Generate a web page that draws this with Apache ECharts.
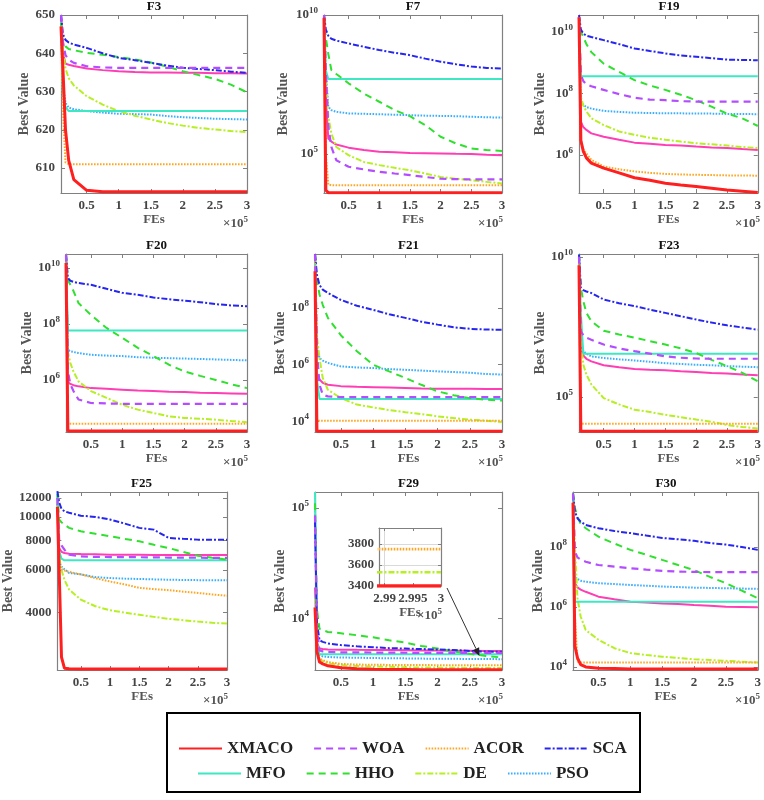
<!DOCTYPE html>
<html><head><meta charset="utf-8">
<script src="https://cdn.jsdelivr.net/npm/echarts@6/dist/echarts.min.js"></script>
<style>html,body{margin:0;padding:0;background:#fff}#c{width:764px;height:800px}</style>
</head><body><div id="c"></div>
<script>
// ---------- DATA ----------
// FEs (x 10^5) sample points shared by all curves
const X = [0.1, 0.13, 0.17, 0.22, 0.3, 0.5, 0.75, 1, 1.25, 1.5, 1.75, 2, 2.25, 2.5, 2.75, 3];
const xTickValues = [0.5, 1, 1.5, 2, 2.5, 3];
// series order inside each panel list
const seriesNames = ['XMACO', 'WOA', 'ACOR', 'SCA', 'MFO', 'HHO', 'DE', 'PSO', 'Other'];
const legendRow1 = ['XMACO', 'WOA', 'ACOR', 'SCA'];
const legendRow2 = ['MFO', 'HHO', 'DE', 'PSO'];

const f3 = [
  [647, 636, 620, 612, 607, 604.2, 603.8, 603.8, 603.8, 603.8, 603.8, 603.8, 603.8, 603.8, 603.8, 603.8],
  [650, 643, 639.5, 638.3, 637.5, 636.6, 636.3, 636.2, 636.2, 636.2, 636.2, 636.2, 636.2, 636.2, 636.2, 636.2],
  [647, 625, 611.5, 611, 611, 611, 611, 611, 611, 611, 611, 611, 611, 611, 611, 611],
  [650, 645, 643.5, 642.8, 642.3, 641.4, 640, 638.8, 638.2, 637.5, 636.8, 636.2, 635.9, 635.6, 635.2, 634.9],
  [648, 630, 626, 624.9, 624.9, 624.9, 624.9, 624.9, 624.9, 624.9, 624.9, 624.9, 624.9, 624.9, 624.9, 624.9],
  [648, 643, 641.8, 641.1, 640.8, 640.1, 639.6, 639, 638.4, 637.6, 636.5, 635.3, 634.3, 633.3, 631.8, 629.8],
  [648, 641, 636, 633.5, 631.6, 628.8, 626.6, 624.9, 623.7, 622.7, 621.8, 621.1, 620.5, 620.1, 619.7, 619.4],
  [648, 632, 627, 625.8, 625.4, 624.9, 624.5, 624.2, 624.1, 624, 623.6, 623.3, 623.1, 622.9, 622.8, 622.7],
  [650, 640, 637.3, 637, 636.7, 636, 635.6, 635.3, 635.1, 635, 635, 634.9, 634.9, 634.8, 634.8, 634.7]
];
const f7 = [
  [8e9, 5e3, 4.1e3, 4.1e3, 4.1e3, 4.1e3, 4.1e3, 4.1e3, 4.1e3, 4.1e3, 4.1e3, 4.1e3, 4.1e3, 4.1e3, 4.1e3, 4.1e3],
  [1e10, 1e8, 1e6, 1.8e5, 6e4, 3.5e4, 2.8e4, 2.3e4, 2e4, 1.75e4, 1.5e4, 1.3e4, 1.25e4, 1.23e4, 1.23e4, 1.23e4],
  [1e10, 1e5, 8e3, 7.6e3, 7.5e3, 7.5e3, 7.5e3, 7.5e3, 7.5e3, 7.5e3, 7.5e3, 7.5e3, 7.5e3, 7.5e3, 7.5e3, 7.5e3],
  [1e10, 3e9, 1.8e9, 1.4e9, 1.2e9, 9.5e8, 7.2e8, 5.5e8, 4.4e8, 3.6e8, 2.7e8, 2.1e8, 1.7e8, 1.4e8, 1.25e8, 1.2e8],
  [1e10, 1e8, 5e7, 5e7, 5e7, 5e7, 5e7, 5e7, 5e7, 5e7, 5e7, 5e7, 5e7, 5e7, 5e7, 5e7],
  [9e9, 1.5e9, 4e8, 1.05e8, 7.6e7, 3.5e7, 1.5e7, 7.6e6, 3.8e6, 2.3e6, 1.1e6, 4.2e5, 2.4e5, 1.6e5, 1.4e5, 1.3e5],
  [1e10, 1e8, 2.2e6, 5.5e5, 1.8e5, 9.1e4, 5.2e4, 4e4, 3.2e4, 2.6e4, 2e4, 1.5e4, 1.3e4, 1.15e4, 1e4, 8.7e3],
  [1e10, 1e8, 5e6, 3.8e6, 3.3e6, 2.9e6, 2.8e6, 2.7e6, 2.6e6, 2.5e6, 2.4e6, 2.35e6, 2.3e6, 2.2e6, 2.1e6, 2.05e6],
  [1e10, 1e7, 3.6e5, 2.8e5, 2.2e5, 1.7e5, 1.4e5, 1.2e5, 1.15e5, 1.1e5, 1.08e5, 1.05e5, 1.02e5, 1e5, 9.5e4, 9.1e4]
];
const f19 = [
  [3e10, 3e6, 1.3e6, 8e5, 5.4e5, 3.7e5, 2.6e5, 1.8e5, 1.5e5, 1.2e5, 1.05e5, 9.3e4, 8.2e4, 7.2e4, 6.6e4, 6e4],
  [3e10, 4e8, 2.5e8, 2e8, 1.7e8, 1.3e8, 9.5e7, 7.2e7, 6.3e7, 6e7, 5.6e7, 5.4e7, 5.4e7, 5.4e7, 5.4e7, 5.4e7],
  [3e10, 2.4e6, 1.5e6, 1.1e6, 6.9e5, 4.2e5, 3.4e5, 2.9e5, 2.6e5, 2.4e5, 2.3e5, 2.25e5, 2.2e5, 2.15e5, 2.15e5, 2.1e5],
  [3.5e10, 1.2e10, 8.9e9, 7.5e9, 6.8e9, 5.4e9, 4e9, 2.9e9, 2.4e9, 2e9, 1.7e9, 1.55e9, 1.4e9, 1.26e9, 1.22e9, 1.2e9],
  [3e10, 3.6e8, 3.6e8, 3.6e8, 3.6e8, 3.6e8, 3.6e8, 3.6e8, 3.6e8, 3.6e8, 3.6e8, 3.6e8, 3.6e8, 3.6e8, 3.6e8, 3.6e8],
  [3e10, 1e10, 6.9e9, 4e9, 2.2e9, 9.3e8, 5e8, 2.7e8, 1.8e8, 1.3e8, 9e7, 6e7, 3.7e7, 2.2e7, 1.55e7, 8.7e6],
  [3e10, 7.8e7, 4e7, 2.6e7, 1.55e7, 9.3e6, 5.8e6, 4.5e6, 3.6e6, 3.1e6, 2.7e6, 2.4e6, 2.2e6, 2e6, 1.8e6, 1.66e6],
  [3e10, 5.4e7, 4.2e7, 3.6e7, 3.2e7, 2.7e7, 2.5e7, 2.35e7, 2.3e7, 2.25e7, 2.25e7, 2.2e7, 2.2e7, 2.15e7, 2.15e7, 2.1e7],
  [3e10, 1.2e7, 8e6, 6.5e6, 5e6, 3.9e6, 3.1e6, 2.5e6, 2.3e6, 2.1e6, 2e6, 1.86e6, 1.75e6, 1.66e6, 1.55e6, 1.45e6]
];
const f20 = [
  [1.5e10, 1.5e4, 1.5e4, 1.5e4, 1.5e4, 1.5e4, 1.5e4, 1.5e4, 1.5e4, 1.5e4, 1.5e4, 1.5e4, 1.5e4, 1.5e4, 1.5e4, 1.5e4],
  [3e10, 2e6, 7e5, 4e5, 2e5, 1.5e5, 1.45e5, 1.4e5, 1.4e5, 1.4e5, 1.4e5, 1.4e5, 1.4e5, 1.4e5, 1.4e5, 1.4e5],
  [3e10, 2.7e4, 2.7e4, 2.7e4, 2.7e4, 2.7e4, 2.7e4, 2.7e4, 2.7e4, 2.7e4, 2.7e4, 2.7e4, 2.7e4, 2.7e4, 2.7e4, 2.7e4],
  [3e10, 4.4e9, 3.5e9, 3.2e9, 2.9e9, 2.5e9, 1.8e9, 1.3e9, 1.1e9, 8.9e8, 7.6e8, 6.8e8, 6e8, 5.1e8, 4.6e8, 4.3e8],
  [3e10, 5.8e7, 5.8e7, 5.8e7, 5.8e7, 5.8e7, 5.8e7, 5.8e7, 5.8e7, 5.8e7, 5.8e7, 5.8e7, 5.8e7, 5.8e7, 5.8e7, 5.8e7],
  [3e10, 3.8e9, 2.5e9, 1.5e9, 5.6e8, 2.1e8, 7.2e7, 3.2e7, 1.4e7, 7.1e6, 3.5e6, 2e6, 1.4e6, 1e6, 7e5, 5.1e5],
  [3e10, 1e7, 4e6, 2e6, 8.9e5, 4e5, 2.3e5, 1.3e5, 8.7e4, 6.6e4, 5e4, 4.4e4, 4.1e4, 3.8e4, 3.4e4, 3.1e4],
  [3e10, 1.2e7, 1.05e7, 1e7, 9.1e6, 7.9e6, 7.4e6, 7.1e6, 6.5e6, 6.2e6, 6e6, 5.8e6, 5.6e6, 5.4e6, 5.2e6, 5e6],
  [3e10, 8.5e5, 7.2e5, 6.5e5, 5.9e5, 5.1e5, 4.8e5, 4.5e5, 4.2e5, 4e5, 3.8e5, 3.7e5, 3.5e5, 3.4e5, 3.3e5, 3.2e5]
];
const f21 = [
  [2e9, 4.5e3, 4.5e3, 4.5e3, 4.5e3, 4.5e3, 4.5e3, 4.5e3, 4.5e3, 4.5e3, 4.5e3, 4.5e3, 4.5e3, 4.5e3, 4.5e3, 4.5e3],
  [8e9, 3e6, 2e5, 8.7e4, 7.6e4, 7.2e4, 7.2e4, 7.2e4, 7.2e4, 7.2e4, 7.2e4, 7.2e4, 7.2e4, 7.2e4, 7.2e4, 7.2e4],
  [5e9, 1.05e4, 1.05e4, 1.05e4, 1.05e4, 1.05e4, 1.05e4, 1.05e4, 1.05e4, 1.05e4, 1.05e4, 1.05e4, 1.05e4, 1.05e4, 1.05e4, 1.05e4],
  [8e9, 1.5e9, 6.5e8, 4.5e8, 3.4e8, 1.95e8, 1.2e8, 8.7e7, 6e7, 4.5e7, 3.3e7, 2.6e7, 2.1e7, 1.85e7, 1.75e7, 1.7e7],
  [8e9, 3e5, 6.2e4, 6.2e4, 6.2e4, 6.2e4, 6.2e4, 6.2e4, 6.2e4, 6.2e4, 6.2e4, 6.2e4, 6.2e4, 6.2e4, 6.2e4, 6.2e4],
  [8e9, 1e9, 3e8, 1.3e8, 4.5e7, 1.1e7, 3e6, 1e6, 5.8e5, 3.4e5, 1.95e5, 1.15e5, 8.3e4, 6.6e4, 5.8e4, 5.4e4],
  [8e9, 1e7, 1.7e6, 3.4e5, 1.3e5, 6.6e4, 3.9e4, 3.1e4, 2.5e4, 2.1e4, 1.8e4, 1.5e4, 1.3e4, 1.15e4, 1.05e4, 9.5e3],
  [8e9, 5e6, 1.7e6, 1.4e6, 1.15e6, 8.7e5, 8e5, 7.6e5, 7e5, 6.6e5, 6.2e5, 5.8e5, 5.5e5, 5.2e5, 4.7e5, 4.5e5],
  [8e9, 5e5, 3e5, 2.3e5, 1.95e5, 1.75e5, 1.65e5, 1.6e5, 1.55e5, 1.5e5, 1.45e5, 1.42e5, 1.4e5, 1.4e5, 1.38e5, 1.38e5]
];
const f23 = [
  [5e9, 5.9e3, 5.9e3, 5.9e3, 5.9e3, 5.9e3, 5.9e3, 5.9e3, 5.9e3, 5.9e3, 5.9e3, 5.9e3, 5.9e3, 5.9e3, 5.9e3, 5.9e3],
  [1e10, 2.2e7, 1.6e7, 1.3e7, 1.1e7, 7.4e6, 5.4e6, 4.3e6, 3.5e6, 2.8e6, 2.5e6, 2.35e6, 2.3e6, 2.3e6, 2.3e6, 2.3e6],
  [6e9, 1.1e4, 1.1e4, 1.1e4, 1.1e4, 1.1e4, 1.1e4, 1.1e4, 1.1e4, 1.1e4, 1.1e4, 1.1e4, 1.1e4, 1.1e4, 1.1e4, 1.1e4],
  [1.2e10, 7.8e8, 6.5e8, 5.8e8, 5.1e8, 3e8, 2.2e8, 1.75e8, 1.3e8, 1e8, 7.6e7, 5.8e7, 4.5e7, 3.6e7, 3e7, 2.5e7],
  [1e10, 1e8, 3.5e6, 3.5e6, 3.5e6, 3.5e6, 3.5e6, 3.5e6, 3.5e6, 3.5e6, 3.5e6, 3.5e6, 3.5e6, 3.5e6, 3.5e6, 3.5e6],
  [1.2e10, 8e8, 2.6e8, 1e8, 5e7, 2.3e7, 1.7e7, 1.3e7, 9.8e6, 7.4e6, 5.4e6, 3.7e6, 2.1e6, 1.26e6, 7.2e5, 3.6e5],
  [1e10, 1e7, 1.4e6, 6.3e5, 2.8e5, 9.1e4, 5.4e4, 3.5e4, 2.9e4, 2.3e4, 1.9e4, 1.55e4, 1.3e4, 1e4, 8.5e3, 7.4e3],
  [1e10, 1e7, 4.3e6, 3.5e6, 2.8e6, 2.45e6, 2.2e6, 2e6, 1.8e6, 1.6e6, 1.5e6, 1.4e6, 1.35e6, 1.26e6, 1.2e6, 1.15e6],
  [8e9, 6e6, 3e6, 2.3e6, 1.85e6, 1.35e6, 1.15e6, 1e6, 9.3e5, 8.9e5, 8.3e5, 7.8e5, 7.2e5, 6.8e5, 6.3e5, 5.9e5]
];
const f25 = [
  [11000, 6000, 2600, 2340, 2330, 2320, 2320, 2320, 2320, 2320, 2320, 2320, 2320, 2320, 2320, 2320],
  [12000, 8000, 7600, 7300, 6960, 6840, 6810, 6800, 6800, 6790, 6780, 6770, 6760, 6760, 6750, 6750],
  [11000, 6200, 6050, 5980, 5900, 5760, 5550, 5380, 5230, 5060, 5000, 4950, 4880, 4820, 4750, 4690],
  [12800, 11500, 10800, 10550, 10400, 10120, 10000, 9750, 9380, 9000, 8850, 8170, 8100, 8040, 8040, 8040],
  [12500, 7200, 6700, 6590, 6590, 6590, 6590, 6590, 6590, 6590, 6590, 6590, 6590, 6590, 6590, 6590],
  [12500, 9750, 9500, 9290, 9000, 8710, 8500, 8300, 8100, 7910, 7650, 7420, 7150, 6890, 6750, 6640],
  [12000, 6840, 6000, 5470, 4980, 4520, 4240, 4080, 3990, 3910, 3830, 3760, 3710, 3660, 3620, 3590],
  [12000, 6500, 6200, 6050, 5840, 5760, 5610, 5560, 5530, 5510, 5490, 5470, 5460, 5450, 5440, 5440],
  [11500, 7420, 7150, 7070, 7020, 7000, 6980, 6960, 6950, 6950, 6940, 6940, 6930, 6930, 6930, 6930]
];
const f29 = [
  [1.25e4, 5000, 4000, 3850, 3700, 3550, 3480, 3450, 3430, 3420, 3410, 3410, 3405, 3400, 3400, 3400],
  [8.5e4, 8000, 5100, 5000, 4950, 4900, 4900, 4880, 4870, 4860, 4850, 4850, 4850, 4850, 4850, 4850],
  [1.2e4, 5000, 4300, 4150, 4000, 3850, 3800, 3780, 3770, 3760, 3760, 3750, 3750, 3750, 3750, 3750],
  [7.5e4, 9000, 6300, 6100, 5900, 5700, 5550, 5450, 5350, 5300, 5250, 5200, 5150, 5050, 4980, 4950],
  [1.39e5, 6000, 4700, 4700, 4700, 4700, 4700, 4700, 4700, 4700, 4700, 4700, 4700, 4700, 4700, 4700],
  [1.1e5, 1.2e4, 8000, 7800, 7500, 7300, 7000, 6700, 6300, 6000, 5600, 5300, 5000, 4750, 4550, 4400],
  [1.5e4, 5000, 4200, 4050, 3900, 3750, 3680, 3650, 3620, 3590, 3570, 3560, 3550, 3540, 3535, 3530],
  [1e5, 6000, 4600, 4500, 4450, 4400, 4380, 4350, 4330, 4320, 4300, 4290, 4280, 4270, 4260, 4250],
  [1.9e4, 6000, 5300, 5250, 5200, 5180, 5160, 5150, 5140, 5120, 5100, 5080, 5070, 5060, 5050, 5050]
];
const f30 = [
  [3e9, 5e4, 2e4, 1.2e4, 1e4, 9e3, 8.8e3, 8.6e3, 8.5e3, 8.5e3, 8.5e3, 8.5e3, 8.5e3, 8.5e3, 8.5e3, 8.5e3],
  [6e9, 7e7, 4.5e7, 3.8e7, 3.2e7, 2.5e7, 2.2e7, 1.95e7, 1.75e7, 1.6e7, 1.5e7, 1.48e7, 1.45e7, 1.45e7, 1.45e7, 1.45e7],
  [3e9, 5e5, 1.5e4, 1.4e4, 1.4e4, 1.4e4, 1.4e4, 1.4e4, 1.4e4, 1.4e4, 1.4e4, 1.4e4, 1.4e4, 1.4e4, 1.4e4, 1.4e4],
  [6e9, 1.5e9, 9.1e8, 7e8, 5.4e8, 4.2e8, 3.4e8, 2.9e8, 2.4e8, 2e8, 1.8e8, 1.6e8, 1.35e8, 1.2e8, 1e8, 8e7],
  [6e9, 1.5e6, 1.5e6, 1.5e6, 1.5e6, 1.5e6, 1.5e6, 1.5e6, 1.5e6, 1.5e6, 1.5e6, 1.5e6, 1.5e6, 1.5e6, 1.5e6, 1.5e6],
  [6e9, 2e9, 1e9, 6e8, 4.2e8, 2.2e8, 1.3e8, 8e7, 5.5e7, 3.7e7, 2.5e7, 1.7e7, 1e7, 6.2e6, 3.5e6, 1.95e6],
  [6e9, 1e8, 2e6, 4.8e5, 1.7e5, 8e4, 4.2e4, 2.9e4, 2.5e4, 2.2e4, 2e4, 1.8e4, 1.7e4, 1.6e4, 1.5e4, 1.4e4],
  [6e9, 1e7, 8.5e6, 7.5e6, 6.9e6, 6.2e6, 5.8e6, 5.4e6, 5.1e6, 4.8e6, 4.6e6, 4.4e6, 4.3e6, 4.2e6, 4.1e6, 4e6],
  [4e9, 6.2e6, 4.5e6, 3.8e6, 3.2e6, 2.2e6, 1.8e6, 1.5e6, 1.4e6, 1.3e6, 1.25e6, 1.17e6, 1.1e6, 1.02e6, 1e6, 9.8e5]
];
// y tick values per panel
const f3Ticks = [610, 620, 630, 640, 650];
const f7Ticks = [1e5, 1e10];
const f19Ticks = [1e6, 1e8, 1e10];
const f20Ticks = [1e6, 1e8, 1e10];
const f21Ticks = [1e4, 1e6, 1e8];
const f23Ticks = [1e5, 1e10];
const f25Ticks = [4000, 6000, 8000, 10000, 12000];
const f29Ticks = [1e4, 1e5];
const f30Ticks = [1e4, 1e6, 1e8];
// inset (zoom of F29 near the end)
const insetXTicks = [2.99, 2.995, 3];
const insetYTicks = [3400, 3600, 3800];

// ---------- STYLE ----------
const FONT = '"Liberation Serif", "Times New Roman", serif';
const AX = '#808080';
const LBL = '#444';
const lineStyles = {
  XMACO: {color: '#ff1f1f', width: 3, type: 'solid'},
  WOA:   {color: '#b34dff', width: 2.2, type: [7, 5]},
  ACOR:  {color: '#ffa620', width: 2, type: [1.6, 1.4]},
  SCA:   {color: '#2626f0', width: 2, type: [6, 2, 2, 2]},
  MFO:   {color: '#3ee8c2', width: 2, type: 'solid'},
  HHO:   {color: '#2fe02f', width: 2, type: [7, 5]},
  DE:    {color: '#b6ef24', width: 2, type: [6, 2, 2, 2]},
  PSO:   {color: '#3aaeff', width: 2, type: [1.6, 1.4]},
  Other: {color: '#ff3db4', width: 2, type: 'solid'}
};
const drawOrder = [8, 7, 6, 4, 5, 3, 2, 1, 0];

const panels = [
  {t: 'F3',  d: f3,  log: false, min: 603.5, max: 650,     ticks: f3Ticks,  g: [61, 15, 186, 178],  gap: 27},
  {t: 'F7',  d: f7,  log: true,  min: 3980,  max: 1e10,    ticks: f7Ticks,  g: [324, 15, 178, 178], gap: 34},
  {t: 'F19', d: f19, log: true,  min: 5.75e4, max: 3.55e10, ticks: f19Ticks, g: [579, 15, 180, 178], gap: 32},
  {t: 'F20', d: f20, log: true,  min: 1.38e4, max: 3.16e10, ticks: f20Ticks, g: [66, 254, 181, 178], gap: 32},
  {t: 'F21', d: f21, log: true,  min: 4.2e3, max: 8.1e9,    ticks: f21Ticks, g: [315, 254, 187, 178], gap: 26},
  {t: 'F23', d: f23, log: true,  min: 5.6e3, max: 1.26e10,  ticks: f23Ticks, g: [579, 254, 180, 178], gap: 32},
  {t: 'F25', d: f25, log: true, plain: true, min: 2300, max: 12700, ticks: f25Ticks, g: [56, 492, 171, 178], gap: 42},
  {t: 'F29', d: f29, log: true,  min: 3390, max: 1.39e5,    ticks: f29Ticks, g: [315, 492, 187, 178], gap: 26},
  {t: 'F30', d: f30, log: true,  min: 7.9e3, max: 6.8e9,    ticks: f30Ticks, g: [573, 492, 186, 178], gap: 26}
];

const labelBase = {fontFamily: FONT, fontWeight: 'bold', fontSize: 13, color: LBL};
const supRich = {s: {fontFamily: FONT, fontWeight: 'bold', fontSize: 9, color: LBL, padding: [0, 0, 9, 0]}};

const grids = [], xAxes = [], yAxes = [], series = [], titles = [];

function boxLine() { return {show: true, onZero: false, lineStyle: {color: AX, width: 1.2}}; }

panels.forEach((p, i) => {
  const [l, t, w, h] = p.g;
  grids.push({left: l, top: t, width: w, height: h});
  xAxes.push({
    gridIndex: i, type: 'value', min: 0.1, max: 3, position: 'bottom',
    name: 'FEs', nameLocation: 'middle', nameGap: 20,
    nameTextStyle: {fontFamily: FONT, fontWeight: 'bold', fontSize: 13, color: '#555'},
    axisLine: boxLine(),
    axisTick: {show: true, inside: true, length: 4, customValues: xTickValues, lineStyle: {color: AX}},
    axisLabel: Object.assign({customValues: xTickValues, margin: 6, formatter: v => String(v)}, labelBase),
    splitLine: {show: false}
  });
  xAxes.push({
    gridIndex: i, type: 'value', min: 0.1, max: 3, position: 'top',
    axisLine: boxLine(),
    axisTick: {show: true, inside: true, length: 4, customValues: xTickValues, lineStyle: {color: AX}},
    axisLabel: {show: false}, splitLine: {show: false}
  });
  const fmt = p.log && !p.plain ? (v => '10{s|' + Math.round(Math.log10(v)) + '}') : (v => String(Math.round(v)));
  const yType = p.log ? 'log' : 'value';
  const yCommon = {gridIndex: i, type: yType, min: p.min, max: p.max};
  if (p.log) yCommon.logBase = 10;
  yAxes.push(Object.assign({}, yCommon, {
    position: 'left',
    name: 'Best Value', nameLocation: 'middle', nameGap: p.gap,
    nameTextStyle: {fontFamily: FONT, fontWeight: 'bold', fontSize: 14, color: '#555'},
    axisLine: boxLine(),
    axisTick: {show: true, inside: true, length: 4, customValues: p.ticks, lineStyle: {color: AX}},
    axisLabel: Object.assign({customValues: p.ticks, margin: 6, formatter: fmt, rich: supRich}, labelBase),
    splitLine: {show: false}
  }));
  yAxes.push(Object.assign({}, yCommon, {
    position: 'right',
    axisLine: boxLine(),
    axisTick: {show: true, inside: true, length: 4, customValues: p.ticks, lineStyle: {color: AX}},
    axisLabel: {show: false}, splitLine: {show: false}
  }));
  titles.push({
    text: p.t, left: l + w / 2, top: t - 15, textAlign: 'center', padding: 0,
    textStyle: {fontFamily: FONT, fontWeight: 'bold', fontSize: 13, color: '#111'}
  });
  drawOrder.forEach(k => {
    const nm = seriesNames[k];
    const ls = lineStyles[nm];
    series.push({
      type: 'line', name: nm, xAxisIndex: 2 * i, yAxisIndex: 2 * i,
      data: X.map((x, j) => [x, p.d[k][j]]),
      symbol: 'none', showSymbol: false, silent: true, clip: true,
      color: ls.color, lineStyle: {color: ls.color, width: ls.width, type: ls.type},
      itemStyle: {color: ls.color}
    });
  });
});

// ---- inset (grid 9) ----
const INSET = 9;
grids.push({left: 379, top: 528, width: 62, height: 58, show: true, backgroundColor: '#fff', borderWidth: 0, z: 5});
xAxes.push({
  gridIndex: INSET, type: 'value', min: 2.989, max: 3, position: 'bottom', z: 5,
  name: 'FEs', nameLocation: 'middle', nameGap: 20,
  nameTextStyle: {fontFamily: FONT, fontWeight: 'bold', fontSize: 13, color: '#555'},
  axisLine: boxLine(),
  axisTick: {show: true, inside: true, length: 3, customValues: insetXTicks, lineStyle: {color: AX}},
  axisLabel: Object.assign({customValues: insetXTicks, margin: 6, formatter: v => String(v)}, labelBase),
  splitLine: {show: false}
});
xAxes.push({
  gridIndex: INSET, type: 'value', min: 2.989, max: 3, position: 'top', z: 5,
  axisLine: boxLine(),
  axisTick: {show: true, inside: true, length: 3, customValues: insetXTicks, lineStyle: {color: AX}},
  axisLabel: {show: false}, splitLine: {show: false}
});
yAxes.push({
  gridIndex: INSET, type: 'value', min: 3400, max: 3950, position: 'left', z: 5,
  axisLine: boxLine(),
  axisTick: {show: true, inside: true, length: 3, customValues: insetYTicks, lineStyle: {color: AX}},
  axisLabel: Object.assign({customValues: insetYTicks, margin: 5, formatter: v => String(v)}, labelBase),
  splitLine: {show: false}
});
yAxes.push({
  gridIndex: INSET, type: 'value', min: 3400, max: 3950, position: 'right', z: 5,
  axisLine: boxLine(),
  axisTick: {show: true, inside: true, length: 3, customValues: insetYTicks, lineStyle: {color: AX}},
  axisLabel: {show: false}, splitLine: {show: false}
});
drawOrder.forEach((k, n) => {
  const nm = seriesNames[k];
  const ls = lineStyles[nm];
  const s = {
    type: 'line', name: nm, xAxisIndex: 2 * INSET, yAxisIndex: 2 * INSET, z: 6,
    data: X.map((x, j) => [x, f29[k][j]]),
    symbol: 'none', showSymbol: false, silent: true, clip: true,
    color: ls.color, lineStyle: {color: ls.color, width: ls.width + 0.6, type: ls.type},
    itemStyle: {color: ls.color}
  };
  if (n === 0) {
    s.markLine = {
      silent: true, symbol: 'none', label: {show: false}, animation: false,
      lineStyle: {color: '#d9d9d9', width: 1, type: 'solid'},
      data: [{xAxis: insetXTicks[0]}, {xAxis: insetXTicks[1]}, {yAxis: insetYTicks[1]}, {yAxis: insetYTicks[2]}]
    };
  }
  series.push(s);
});

const legendText = {fontFamily: FONT, fontWeight: 'bold', fontSize: 17, color: '#222'};
const legendCommon = {itemWidth: 43, itemHeight: 14, itemGap: 20, selectedMode: false, textStyle: legendText,
  itemStyle: {opacity: 0, borderWidth: 0}};
const option = {
  animation: false,
  backgroundColor: '#fff',
  title: titles,
  grid: grids,
  xAxis: xAxes,
  yAxis: yAxes,
  legend: [
    Object.assign({data: legendRow1, left: 173, top: 735}, legendCommon),
    Object.assign({data: legendRow2, left: 192, top: 760}, legendCommon)
  ],
  series: series
};

const chart = echarts.init(document.getElementById('c'), null, {renderer: 'canvas'});
chart.setOption(option);

// ---------- annotations ----------
const graphics = [];
const supStyle = {s: {fontSize: 9, fontFamily: FONT, fontWeight: 'bold', fill: '#555', padding: [0, 0, 9, 0]}};
panels.forEach(p => {
  const [l, t, w, h] = p.g;
  graphics.push({type: 'text', x: l + w + 1, y: t + h + 31, z: 10,
    style: {text: '×10{s|5}', rich: supStyle, fontFamily: FONT, fontWeight: 'bold', fontSize: 13, fill: '#555', align: 'right', verticalAlign: 'middle'}});
});
graphics.push({type: 'text', x: 442, y: 586 + 30, z: 10,
  style: {text: '×10{s|5}', rich: supStyle, fontFamily: FONT, fontWeight: 'bold', fontSize: 13, fill: '#555', align: 'right', verticalAlign: 'middle'}});
// arrow from inset to the zoomed region
const a0 = chart.convertToPixel({xAxisIndex: 2 * INSET, yAxisIndex: 2 * INSET}, [3, 3400]);
const a1 = chart.convertToPixel({xAxisIndex: 14, yAxisIndex: 14}, [2.65, 4550]);
const sx = a0[0] + 6, sy = a0[1] + 2;
const ang = Math.atan2(a1[1] - sy, a1[0] - sx);
const hl = 8, hw = 3.5;
const bx = a1[0] - hl * Math.cos(ang), by = a1[1] - hl * Math.sin(ang);
graphics.push({type: 'line', z: 10, shape: {x1: sx, y1: sy, x2: bx, y2: by}, style: {stroke: '#333', lineWidth: 1}});
graphics.push({type: 'polygon', z: 10, shape: {points: [
  [a1[0], a1[1]],
  [bx + hw * Math.sin(ang), by - hw * Math.cos(ang)],
  [bx - hw * Math.sin(ang), by + hw * Math.cos(ang)]
]}, style: {fill: '#222'}});
// legend frame
graphics.push({type: 'rect', z: 0, shape: {x: 167, y: 713, width: 473, height: 79}, style: {fill: 'none', stroke: '#000', lineWidth: 2}});
chart.setOption({graphic: graphics});
</script>
</body></html>
